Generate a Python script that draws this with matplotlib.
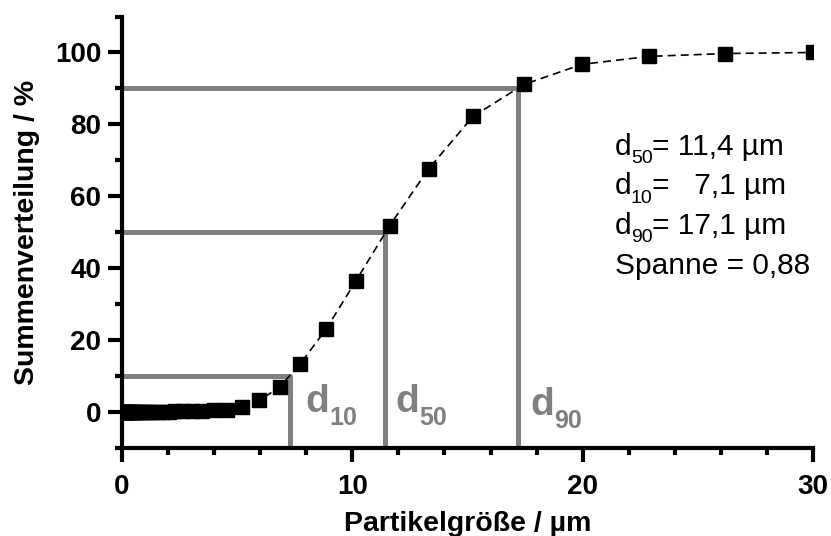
import matplotlib
matplotlib.use("Agg")
import matplotlib.pyplot as plt
from matplotlib.ticker import MultipleLocator

plt.rcParams['font.family'] = ['Liberation Sans', 'DejaVu Sans']

# cumulative distribution
size_um = [0.10, 0.12, 0.14, 0.16, 0.18, 0.20, 0.23, 0.27, 0.31, 0.35,
           0.40, 0.46, 0.52, 0.60, 0.69, 0.79, 0.90, 1.03, 1.18, 1.35,
           1.54, 1.77, 2.02, 2.32, 2.65, 3.04, 3.48, 3.98, 4.56, 5.22,
           5.97, 6.84, 7.72, 8.86, 10.15, 11.62, 13.31, 15.24, 17.45, 19.98,
           22.88, 26.2, 30.0]
cum_pct = [0.0, 0.0, 0.0, 0.0, 0.0, 0.0, 0.0, 0.0, 0.0, 0.0,
           0.0, 0.0, 0.0, 0.0, 0.0, 0.0, 0.0, 0.1, 0.1, 0.1,
           0.1, 0.1, 0.1, 0.2, 0.2, 0.2, 0.3, 0.4, 0.6, 1.4,
           3.2, 6.9, 13.2, 23.0, 36.4, 51.8, 67.6, 82.2, 91.1, 96.7,
           98.9, 99.7, 100.0]

# characteristic diameters (where the grey guide lines sit)
d_names = ['10', '50', '90']
d_x = [7.3, 11.4, 17.2]
d_y = [10, 50, 90]

# results box on the right: subscript, rest of the line
info_subs = ['50', '10', '90']
info_rest = ['= 11,4 µm', '=   7,1 µm', '= 17,1 µm']
info_last = 'Spanne = 0,88'

fig = plt.figure(figsize=(8.31, 5.36), dpi=100)
ax = fig.add_axes([0.1468, 0.1644, 0.8315, 0.8048])

grey = '#808080'
for xv, yv in zip(d_x, d_y):
    ax.plot([0, xv, xv], [yv, yv, -10], color=grey, lw=3.6,
            solid_capstyle='round', solid_joinstyle='round', zorder=2)

ax.plot(size_um, cum_pct, color='black', lw=1.2, dashes=(4.8, 3), zorder=3)
ax.plot(size_um, cum_pct, ls='none', marker='s', ms=10.3, color='black', zorder=4)

# d labels next to the vertical lines
lab_pos = [(7.95, 0.0), (11.85, 0.0), (17.72, -0.8)]
for name, (xd, yd) in zip(d_names, lab_pos):
    ax.text(xd, yd, 'd', color=grey, fontsize=28, fontweight='bold', va='baseline', ha='left')
    ax.annotate(name, (xd, yd), xytext=(17.5, -9.5), textcoords='offset points',
                color=grey, fontsize=18, fontweight='bold', va='baseline', ha='left')

for i in range(3):
    yb = 71.6 - i * 11.1
    ax.text(21.4, yb, 'd', fontsize=21.5, va='baseline', ha='left')
    ax.annotate(info_subs[i], (21.4, yb), xytext=(11.5, -5.8), textcoords='offset points',
                fontsize=14, va='baseline', ha='left')
    ax.annotate(info_rest[i], (21.4, yb), xytext=(27, 0), textcoords='offset points',
                fontsize=21.5, va='baseline', ha='left')
ax.text(21.4, 71.6 - 3 * 11.1, info_last, fontsize=21.5, va='baseline', ha='left')

ax.set_xlim(0, 30)
ax.set_ylim(-10, 110)
ax.xaxis.set_major_locator(MultipleLocator(10))
ax.xaxis.set_minor_locator(MultipleLocator(2))
ax.yaxis.set_major_locator(MultipleLocator(20))
ax.yaxis.set_minor_locator(MultipleLocator(10))
ax.set_yticks([0, 20, 40, 60, 80, 100])

for s in ['top', 'right']:
    ax.spines[s].set_visible(False)
for s in ['left', 'bottom']:
    ax.spines[s].set_linewidth(3)

ax.tick_params(which='major', direction='out', length=10, width=3, labelsize=20)
ax.tick_params(axis='x', which='major', pad=8.5)
ax.tick_params(axis='y', which='major', pad=5)
ax.tick_params(which='minor', direction='out', length=5, width=3)
for lab in ax.get_xticklabels() + ax.get_yticklabels():
    lab.set_fontweight('bold')

ax.set_xlabel('Partikelgröße / µm', fontsize=20.5, fontweight='bold', labelpad=8)
ax.set_ylabel('Summenverteilung / %', fontsize=20.5, fontweight='bold', labelpad=11)

fig.savefig('out.png', dpi=100)
